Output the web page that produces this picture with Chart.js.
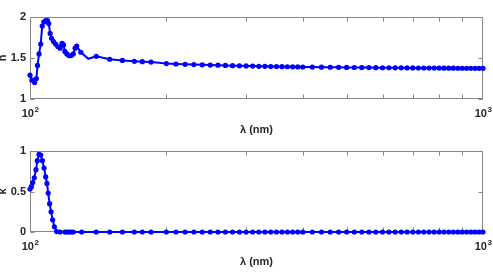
<!DOCTYPE html>
<html>
<head>
<meta charset="utf-8">
<script src="https://cdn.jsdelivr.net/npm/chart.js@4.4.0/dist/chart.umd.min.js"></script>
<style>
  html, body { margin: 0; padding: 0; background: #fff; }
  #wrap { position: relative; width: 493px; height: 273px; overflow: hidden; }
  canvas { position: absolute; left: 0; }
  #nChart { top: 0; }
  #kChart { top: 137px; }
</style>
</head>
<body>
<div id="wrap">
  <canvas id="nChart" width="493" height="140"></canvas>
  <canvas id="kChart" width="493" height="136"></canvas>
</div>
<script>
// wavelength (nm) and refractive index n
const nLambda = [100, 101, 102.4, 103.3, 103.9, 104.7, 105.6, 106.4, 107.3, 108.3, 109.3, 110, 110.8, 111.6,
  112.7, 113.9, 115.2, 116.5, 117.7, 118.6, 119.4, 120.6, 121.9, 123.3, 124.6, 125.8, 126.8, 129.5, 134.5,
  140, 150, 160, 170, 177, 185];
const nValues = [1.29, 1.23, 1.20, 1.25, 1.41, 1.55, 1.67, 1.89, 1.94, 1.955, 1.955, 1.92, 1.80, 1.74,
  1.70, 1.67, 1.64, 1.62, 1.68, 1.66, 1.58, 1.55, 1.53, 1.53, 1.55, 1.62, 1.645, 1.57, 1.49,
  1.52, 1.485, 1.47, 1.46, 1.455, 1.45];
// points of the n curve drawn without a marker
const nNoMarker = [134.5];

// wavelength (nm) and extinction coefficient k, lower panel
const kLambda = [100, 100.7, 101.4, 102.2, 103.1, 103.8, 104.7, 105.6, 106.5, 107.4, 108.3, 109, 109.7, 110.5,
  111.3, 112.2, 113.2, 114.5, 116.5, 119.5, 120.4, 121.9, 123.2, 124.6, 130, 140, 150, 160, 170, 177, 185];
const kValues = [0.53, 0.56, 0.61, 0.67, 0.77, 0.88, 0.96, 0.95, 0.88, 0.79, 0.68, 0.60, 0.48, 0.35,
  0.25, 0.15, 0.065, 0.005, 0, 0, 0, 0, 0, 0, 0, 0, 0, 0, 0, 0, 0];

// common long-wavelength part of both panels
const tailLambda = [200, 210, 220, 230, 240, 250, 260, 270, 280, 290, 300, 310, 320, 330, 340, 350, 360, 370,
  380, 390, 400, 420, 440, 460, 480, 500, 520, 540, 560, 580, 600, 620, 640, 660, 680, 700, 720, 740, 760,
  780, 800, 820, 840, 860, 880, 900, 920, 940, 960, 980, 1000];
const nTail = [1.432, 1.427, 1.423, 1.420, 1.417, 1.414, 1.412, 1.409, 1.407, 1.405, 1.403, 1.401, 1.399,
  1.398, 1.396, 1.395, 1.394, 1.393, 1.392, 1.391, 1.390, 1.389, 1.388, 1.387, 1.386, 1.385, 1.384, 1.383,
  1.383, 1.382, 1.381, 1.381, 1.380, 1.380, 1.379, 1.379, 1.378, 1.378, 1.377, 1.377, 1.377, 1.376, 1.376,
  1.376, 1.375, 1.375, 1.375, 1.374, 1.374, 1.374, 1.374];
const kTail = [0, 0, 0, 0, 0, 0, 0, 0, 0, 0, 0, 0, 0, 0, 0, 0, 0, 0, 0, 0, 0, 0, 0, 0, 0, 0, 0, 0, 0, 0,
  0, 0, 0, 0, 0, 0, 0, 0, 0, 0, 0, 0, 0, 0, 0, 0, 0, 0, 0, 0, 0];

// x tick labels: base 10 with these exponents
const xTickValues = [100, 1000];
const xTickExponents = ['2', '3'];
const xMinorTicks = [200, 300, 400, 500, 600, 700, 800, 900];

const blue = '#0000ff';
const axisColor = '#868686';
const textColor = '#262626';
const fontFamily = '"Liberation Sans", Arial, Helvetica, sans-serif';

function toPoints(xs, ys) {
  return xs.map((x, i) => ({ x: x, y: ys[i] }));
}

// box round the axes with inward ticks, like matlab
const boxPlugin = {
  id: 'boxTicks',
  beforeDatasetsDraw(chart) {
    const { ctx, chartArea: a, scales: { x, y } } = chart;
    const L = Math.round(a.left) + 0.5, R = Math.round(a.right) - 0.5;
    const T = Math.round(a.top) + 0.5, B = Math.round(a.bottom) - 0.5;
    ctx.save();
    ctx.strokeStyle = axisColor;
    ctx.lineWidth = 1;
    ctx.strokeRect(L, T, R - L, B - T);
    ctx.beginPath();
    xMinorTicks.forEach(v => {
      const px = Math.round(x.getPixelForValue(v)) + 0.5;
      ctx.moveTo(px, T); ctx.lineTo(px, T + 4);
      ctx.moveTo(px, B); ctx.lineTo(px, B - 4);
    });
    y.ticks.forEach(t => {
      const py = Math.round(y.getPixelForValue(t.value)) + 0.5;
      ctx.moveTo(L, py); ctx.lineTo(L + 4, py);
      ctx.moveTo(R, py); ctx.lineTo(R - 4, py);
    });
    ctx.stroke();

    // 10^n labels under the x axis
    ctx.fillStyle = textColor;
    ctx.textBaseline = 'alphabetic';
    ctx.textAlign = 'left';
    xTickValues.forEach((v, i) => {
      const px = x.getPixelForValue(v);
      ctx.font = 'bold 11px ' + fontFamily;
      const wBase = ctx.measureText('10').width;
      ctx.font = 'bold 8px ' + fontFamily;
      const wExp = ctx.measureText(xTickExponents[i]).width;
      const left = px - (wBase + wExp) / 2;
      const base = a.bottom + 18;
      ctx.font = 'bold 11px ' + fontFamily;
      ctx.fillText('10', left, base);
      ctx.font = 'bold 8px ' + fontFamily;
      ctx.fillText(xTickExponents[i], left + wBase + 0.5, base - 5);
    });
    ctx.restore();
  }
};

function makeChart(id, points, noMarker, yMin, yMax, yLabel, padTop, xHeight, titlePad) {
  return new Chart(document.getElementById(id), {
    type: 'line',
    data: {
      datasets: [{
        data: points,
        borderColor: blue,
        backgroundColor: blue,
        borderWidth: 2,
        pointRadius: c => (c.raw && noMarker.includes(c.raw.x)) ? 0 : 2.6,
        pointBorderWidth: 0,
        pointBackgroundColor: blue,
        tension: 0,
        clip: false
      }]
    },
    options: {
      responsive: false,
      animation: false,
      events: [],
      layout: { padding: { top: padTop, right: 10, left: 0, bottom: 0 } },
      plugins: { legend: { display: false }, tooltip: { enabled: false } },
      scales: {
        x: {
          type: 'logarithmic',
          min: 100,
          max: 1000,
          grid: { display: false, drawTicks: false },
          border: { display: false },
          afterBuildTicks: s => { s.ticks = xTickValues.map(v => ({ value: v })); },
          afterFit: s => { s.height = xHeight; },
          ticks: { display: false },
          title: {
            display: true,
            text: 'λ (nm)',
            color: textColor,
            font: { family: fontFamily, size: 11, weight: 'bold' },
            padding: { top: 0, bottom: titlePad }
          }
        },
        y: {
          min: yMin,
          max: yMax,
          grid: { display: false, drawTicks: false },
          border: { display: false },
          afterFit: s => { s.width = 30; },
          ticks: {
            stepSize: 0.5,
            padding: 4,
            color: textColor,
            font: { family: fontFamily, size: 11, weight: 'bold' },
            callback: v => String(v)
          },
          title: {
            display: true,
            text: yLabel,
            color: textColor,
            font: { family: fontFamily, size: 11, weight: 'bold', lineHeight: 1 },
            padding: { top: -3, bottom: 0 }
          }
        }
      }
    },
    plugins: [boxPlugin]
  });
}

makeChart('nChart', toPoints(nLambda.concat(tailLambda), nValues.concat(nTail)), nNoMarker,
  1, 2, 'n', 17, 41, 3.5);
makeChart('kChart', toPoints(kLambda.concat(tailLambda), kValues.concat(kTail)), [],
  0, 1, 'κ', 14, 41, 4.5);
</script>
</body>
</html>
